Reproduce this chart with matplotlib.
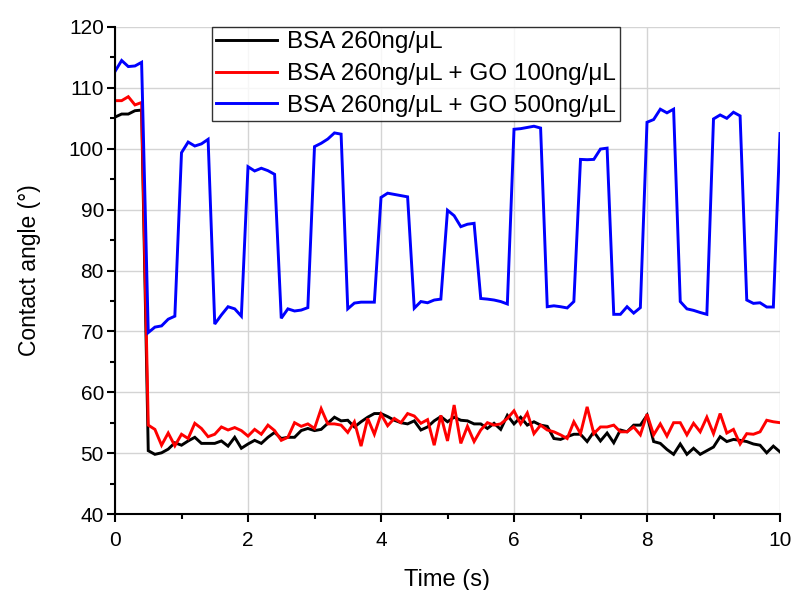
import numpy as np
import matplotlib
matplotlib.use("Agg")
import matplotlib.pyplot as plt
from matplotlib.ticker import MultipleLocator

plt.rcParams['font.family'] = ['Liberation Sans', 'DejaVu Sans']

time = np.round(np.arange(0, 10.01, 0.1), 1)

bsa = [105.2, 105.7, 105.7, 106.25, 106.35,
       50.4, 49.8, 50.05, 50.65, 51.7, 51.3, 52.0, 52.6, 51.6, 51.6,
       51.6, 52.0, 51.15, 52.6, 50.8, 51.5, 52.1, 51.6, 52.6, 53.4,
       52.4, 52.6, 52.6, 53.7, 54.05, 53.7, 53.9, 54.9, 55.9, 55.3,
       55.4, 54.3, 55.15, 55.9, 56.5, 56.5, 56.0, 55.4, 55.0, 54.8,
       55.3, 53.8, 54.3, 55.3, 56.0, 55.15, 55.9, 55.4, 55.3, 54.8,
       54.8, 54.05, 54.9, 53.9, 56.2, 54.8, 55.9, 54.6, 55.15, 54.6,
       54.4, 52.4, 52.25, 52.7, 53.1, 53.1, 51.9, 53.5, 52.0, 53.3,
       51.7, 53.8, 53.5, 54.6, 54.6, 56.2, 51.9, 51.6, 50.6, 49.8,
       51.5, 49.8, 50.8, 49.8, 50.4, 51.0, 52.7, 51.9, 52.25, 52.1,
       51.9, 51.5, 51.3, 50.05, 51.15, 50.2]

bsa_go100 = [107.9, 107.9, 108.55, 107.2, 107.6,
             54.6, 53.9, 51.3, 53.3, 51.2, 53.1, 52.4, 54.9, 54.05, 52.7,
             53.1, 54.3, 53.8, 54.2, 53.7, 52.8, 53.9, 53.1, 54.6, 53.7,
             52.1, 52.6, 55.0, 54.4, 54.8, 54.05, 57.3, 54.8, 54.8, 54.6,
             53.4, 55.15, 51.15, 55.7, 53.1, 56.4, 54.5, 55.7, 55.0, 56.5,
             56.1, 54.9, 55.5, 51.3, 56.2, 52.0, 57.9, 51.6, 54.4, 51.9,
             53.8, 55.0, 54.6, 54.8, 55.7, 56.95, 54.8, 56.6, 53.2, 54.6,
             53.8, 53.5, 53.0, 52.4, 55.15, 53.2, 57.6, 53.2, 54.3, 54.3,
             54.6, 53.5, 53.5, 54.3, 53.0, 56.4, 53.0, 54.8, 52.8, 55.0,
             55.0, 53.0, 54.9, 53.5, 55.9, 53.2, 56.5, 53.3, 53.9, 51.5,
             53.2, 53.1, 53.5, 55.4, 55.15, 55.0]

bsa_go500 = [112.7, 114.5, 113.5, 113.6, 114.2,
             69.8, 70.7, 70.9, 72.0, 72.5, 99.35, 101.1, 100.45, 100.8, 101.55,
             71.2, 72.7, 74.05, 73.7, 72.5, 97.05, 96.35, 96.8, 96.4, 95.8,
             72.15, 73.7, 73.35, 73.5, 73.9, 100.35, 100.9, 101.6, 102.6, 102.4,
             73.7, 74.65, 74.8, 74.8, 74.8, 92.0, 92.7, 92.5, 92.3, 92.1,
             73.8, 74.9, 74.7, 75.15, 75.3, 89.9, 89.0, 87.2, 87.6, 87.75,
             75.4, 75.3, 75.15, 74.9, 74.5, 103.2, 103.3, 103.5, 103.7, 103.4,
             74.05, 74.2, 74.05, 73.85, 74.9, 98.25, 98.2, 98.25, 99.95, 100.1,
             72.8, 72.8, 74.05, 73.0, 73.9, 104.35, 104.8, 106.5, 105.9, 106.5,
             74.9, 73.7, 73.45, 73.1, 72.8, 104.9, 105.55, 105.0, 106.0, 105.4,
             75.15, 74.6, 74.7, 74.0, 74.0, 102.5]

labels = ["BSA 260ng/\u03bcL",
          "BSA 260ng/\u03bcL + GO 100ng/\u03bcL",
          "BSA 260ng/\u03bcL + GO 500ng/\u03bcL"]
colors = ["black", "#ff0000", "#0000ff"]

fig = plt.figure(figsize=(7.94, 5.90), dpi=100)
ax = fig.add_axes([115/794, 1-514/590, (780-115)/794, (514-27)/590])

for y, lab, c in zip([bsa, bsa_go100, bsa_go500], labels, colors):
    ax.plot(time, y, color=c, lw=2.1, label=lab, solid_joinstyle='miter')

ax.set_xlim(0, 10)
ax.set_ylim(40, 120)
ax.xaxis.set_major_locator(MultipleLocator(2))
ax.xaxis.set_minor_locator(MultipleLocator(1))
ax.yaxis.set_major_locator(MultipleLocator(10))
ax.yaxis.set_minor_locator(MultipleLocator(5))
ax.grid(True, which='major', color='#d4d4d4', lw=1.0)
ax.set_axisbelow(True)
for s in ['top', 'right']:
    ax.spines[s].set_visible(False)
for s in ['left', 'bottom']:
    ax.spines[s].set_linewidth(1.5)
ax.tick_params(which='major', direction='out', length=6, width=1.5, labelsize=15)
ax.tick_params(which='minor', direction='out', length=3.5, width=1.5)
ax.tick_params(axis='x', which='major', pad=6)
ax.tick_params(axis='y', which='major', pad=2)
ax.set_xlabel("Time (s)", fontsize=17, labelpad=14)
ax.set_ylabel("Contact angle (\u00b0)", fontsize=16.5, labelpad=20)

leg = ax.legend(loc='upper left', bbox_to_anchor=(0.146, 1.0), borderaxespad=0,
                fontsize=17.5, frameon=True, fancybox=False, edgecolor='black',
                handlelength=2.5, handletextpad=0.4, labelspacing=0.4,
                borderpad=0.18)
leg.get_frame().set_linewidth(1.0)

fig.savefig("out.png", dpi=100)
